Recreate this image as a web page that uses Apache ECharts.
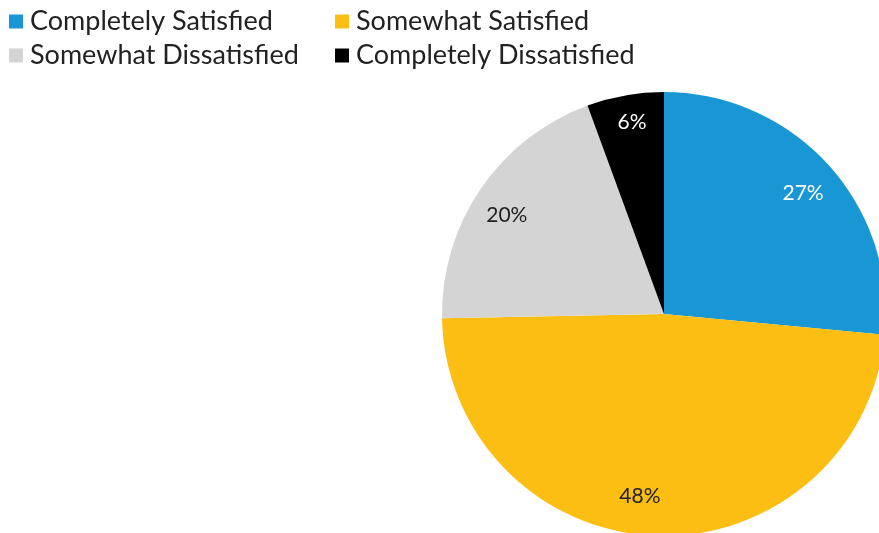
<!DOCTYPE html>
<html><head><meta charset="utf-8">
<script src="https://cdn.jsdelivr.net/npm/echarts@6/dist/echarts.min.js"></script>
<style>html,body{margin:0;padding:0;background:#fff}#c{width:879px;height:533px}</style>
</head><body><div id="c"></div>
<script>
const categories = ['Completely Satisfied', 'Somewhat Satisfied', 'Somewhat Dissatisfied', 'Completely Dissatisfied'];
const values = [26.5, 48.2, 19.7, 5.6];
const labels = ['27%', '48%', '20%', '6%'];
const colors = ['#1996d4', '#fcbe13', '#d4d4d4', '#000000'];
const labelColors = ['#ffffff', '#222222', '#222222', '#ffffff'];
const labelOffsets = [[0, 6], [-17, -6], [-2, 7], [1, -7]];

const chart = echarts.init(document.getElementById('c'));
const data = categories.map((n, i) => ({ name: n, value: values[i], itemStyle: { color: colors[i] } }));
const labelData = categories.map((n, i) => ({
  name: n, value: values[i],
  itemStyle: { color: 'rgba(0,0,0,0)' },
  label: { color: labelColors[i], formatter: labels[i], offset: labelOffsets[i] }
}));
chart.setOption({
  animation: false,
  legend: {
    left: 4, top: 3, width: 700,
    itemWidth: 14, itemHeight: 14, itemGap: 7,
    icon: 'rect',
    data: categories,
    textStyle: { fontFamily: 'Lato', fontSize: 27, color: '#222', width: 298, lineHeight: 26, padding: [0, 0, 0, 2] }
  },
  series: [
    {
      type: 'pie', center: [664, 314], radius: [0, 222], startAngle: 90, clockwise: true,
      data: data, label: { show: false }, labelLine: { show: false }, silent: true
    },
    {
      type: 'pie', center: [664, 314], radius: [148, 222], startAngle: 90, clockwise: true,
      data: labelData, silent: true, legendHoverLink: false,
      label: { show: true, position: 'inside', fontFamily: 'Lato', fontSize: 21 },
      labelLine: { show: false }
    }
  ]
});
</script></body></html>
